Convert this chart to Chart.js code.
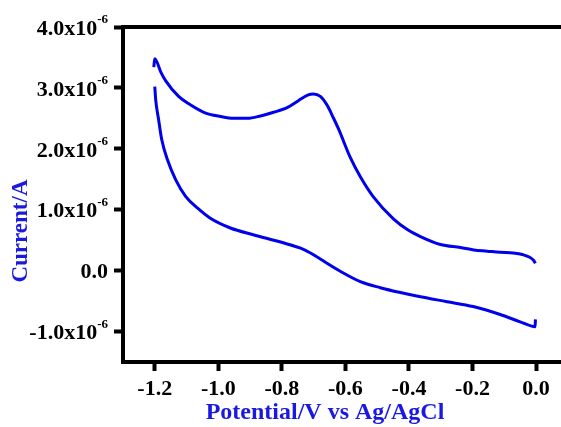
<!DOCTYPE html>
<html>
<head>
<meta charset="utf-8">
<script src="https://cdn.jsdelivr.net/npm/chart.js@4.4.0/dist/chart.umd.min.js"></script>
<style>
  html, body { margin: 0; padding: 0; background: #fff; }
</style>
</head>
<body>
<canvas id="cv" width="561" height="427"></canvas>
<script>
// cyclic voltammogram, potential in V vs Ag/AgCl, current in units of 1e-6 A
// upper branch: 0 V -> -1.2 V
const potUpper = [-0.002, -0.008, -0.020, -0.040, -0.072, -0.113, -0.154, -0.196, -0.238, -0.301,
                  -0.364, -0.404, -0.449, -0.512, -0.553, -0.584, -0.622, -0.638, -0.657, -0.679,
                  -0.701, -0.719, -0.748, -0.782, -0.826, -0.867, -0.908, -0.952, -0.993, -1.046,
                  -1.087, -1.125, -1.166, -1.181, -1.200, -1.203];
const curUpper = [0.12, 0.17, 0.22, 0.26, 0.29, 0.30, 0.32, 0.34, 0.38, 0.43,
                  0.56, 0.67, 0.85, 1.21, 1.54, 1.85, 2.33, 2.51, 2.71, 2.86,
                  2.90, 2.88, 2.79, 2.68, 2.60, 2.54, 2.50, 2.50, 2.53, 2.60,
                  2.72, 2.86, 3.12, 3.26, 3.48, 3.34];
// lower branch: -1.2 V -> 0 V
const potLower = [-1.200, -1.197, -1.188, -1.178, -1.160, -1.134, -1.103, -1.066, -1.025, -0.962,
                  -0.890, -0.804, -0.772, -0.741, -0.710, -0.679, -0.616, -0.553, -0.490, -0.427,
                  -0.364, -0.280, -0.198, -0.113, -0.050, -0.003, -0.002];
const curLower = [3.02, 2.80, 2.48, 2.15, 1.82, 1.49, 1.22, 1.03, 0.86, 0.70,
                  0.59, 0.47, 0.42, 0.37, 0.29, 0.19, -0.01, -0.18, -0.28, -0.36,
                  -0.43, -0.51, -0.59, -0.72, -0.84, -0.92, -0.80];

const xTicks = [-1.2, -1.0, -0.8, -0.6, -0.4, -0.2, 0.0];
const yTicks = [-1, 0, 1, 2, 3, 4]; // x10^-6 A

const serif = "'Liberation Serif', 'Times New Roman', serif";
const blue = 'rgb(0, 0, 235)';
const titleBlue = 'rgb(25, 25, 225)';

function toPoints(xs, ys) {
  return xs.map((x, i) => ({ x: x, y: ys[i] * 1e-6 }));
}

// y labels with superscript exponent, top frame line and axis titles
const decorations = {
  id: 'decorations',
  afterDraw(chart) {
    const ctx = chart.ctx;
    const area = chart.chartArea;
    const ys = chart.scales.y;
    ctx.save();

    ctx.strokeStyle = '#000';
    ctx.lineWidth = 4;
    ctx.beginPath();
    ctx.moveTo(area.left - 2, area.top);
    ctx.lineTo(chart.width, area.top);
    ctx.stroke();

    ctx.fillStyle = '#000';
    ctx.textAlign = 'right';
    ctx.textBaseline = 'middle';
    const rx = 108;
    yTicks.forEach(v => {
      const py = ys.getPixelForValue(v * 1e-6);
      if (v === 0) {
        ctx.font = 'bold 22px ' + serif;
        ctx.fillText('0.0', rx, py + 2);
        return;
      }
      ctx.font = 'bold 13px ' + serif;
      const sw = ctx.measureText('-6').width;
      ctx.fillText('-6', rx, py - 7);
      ctx.font = 'bold 22px ' + serif;
      ctx.fillText(v.toFixed(1) + 'x10', rx - sw, py + 2);
    });

    ctx.fillStyle = titleBlue;
    ctx.textAlign = 'center';
    ctx.font = 'bold 24px ' + serif;
    ctx.fillText('Potential/V vs Ag/AgCl', 325, 413);

    ctx.translate(21, 231);
    ctx.rotate(-Math.PI / 2);
    ctx.font = 'bold 23px ' + serif;
    ctx.fillText('Current/A', 0, 0);
    ctx.restore();
  }
};

const lineStyle = {
  showLine: true,
  borderColor: blue,
  borderWidth: 3,
  pointRadius: 0,
  cubicInterpolationMode: 'monotone'
};

new Chart(document.getElementById('cv'), {
  type: 'scatter',
  data: {
    datasets: [
      Object.assign({ data: toPoints(potUpper, curUpper) }, lineStyle),
      Object.assign({ data: toPoints(potLower, curLower) }, lineStyle)
    ]
  },
  options: {
    responsive: false,
    animation: false,
    devicePixelRatio: 1,
    layout: { padding: { top: 27, right: 0, left: 0, bottom: 0 } },
    plugins: {
      legend: { display: false },
      tooltip: { enabled: false }
    },
    scales: {
      x: {
        type: 'linear',
        min: -1.3,
        max: 0.0785,
        afterBuildTicks: s => { s.ticks = xTicks.map(v => ({ value: v })); },
        afterFit: s => { s.height = 65; },
        ticks: {
          color: '#000',
          font: { family: serif, size: 22, weight: 'bold' },
          padding: 5,
          maxRotation: 0,
          callback: v => v.toFixed(1)
        },
        grid: { drawOnChartArea: false, tickLength: 9, tickWidth: 4, tickColor: '#000' },
        border: { color: '#000', width: 4 }
      },
      y: {
        type: 'linear',
        min: -1.5e-6,
        max: 4.0e-6,
        afterBuildTicks: s => { s.ticks = yTicks.map(v => ({ value: v * 1e-6 })); },
        afterFit: s => { s.width = 123; },
        ticks: { callback: () => '' },
        grid: { drawOnChartArea: false, tickLength: 9, tickWidth: 4, tickColor: '#000' },
        border: { color: '#000', width: 4 }
      }
    }
  },
  plugins: [decorations]
});
</script>
</body>
</html>
